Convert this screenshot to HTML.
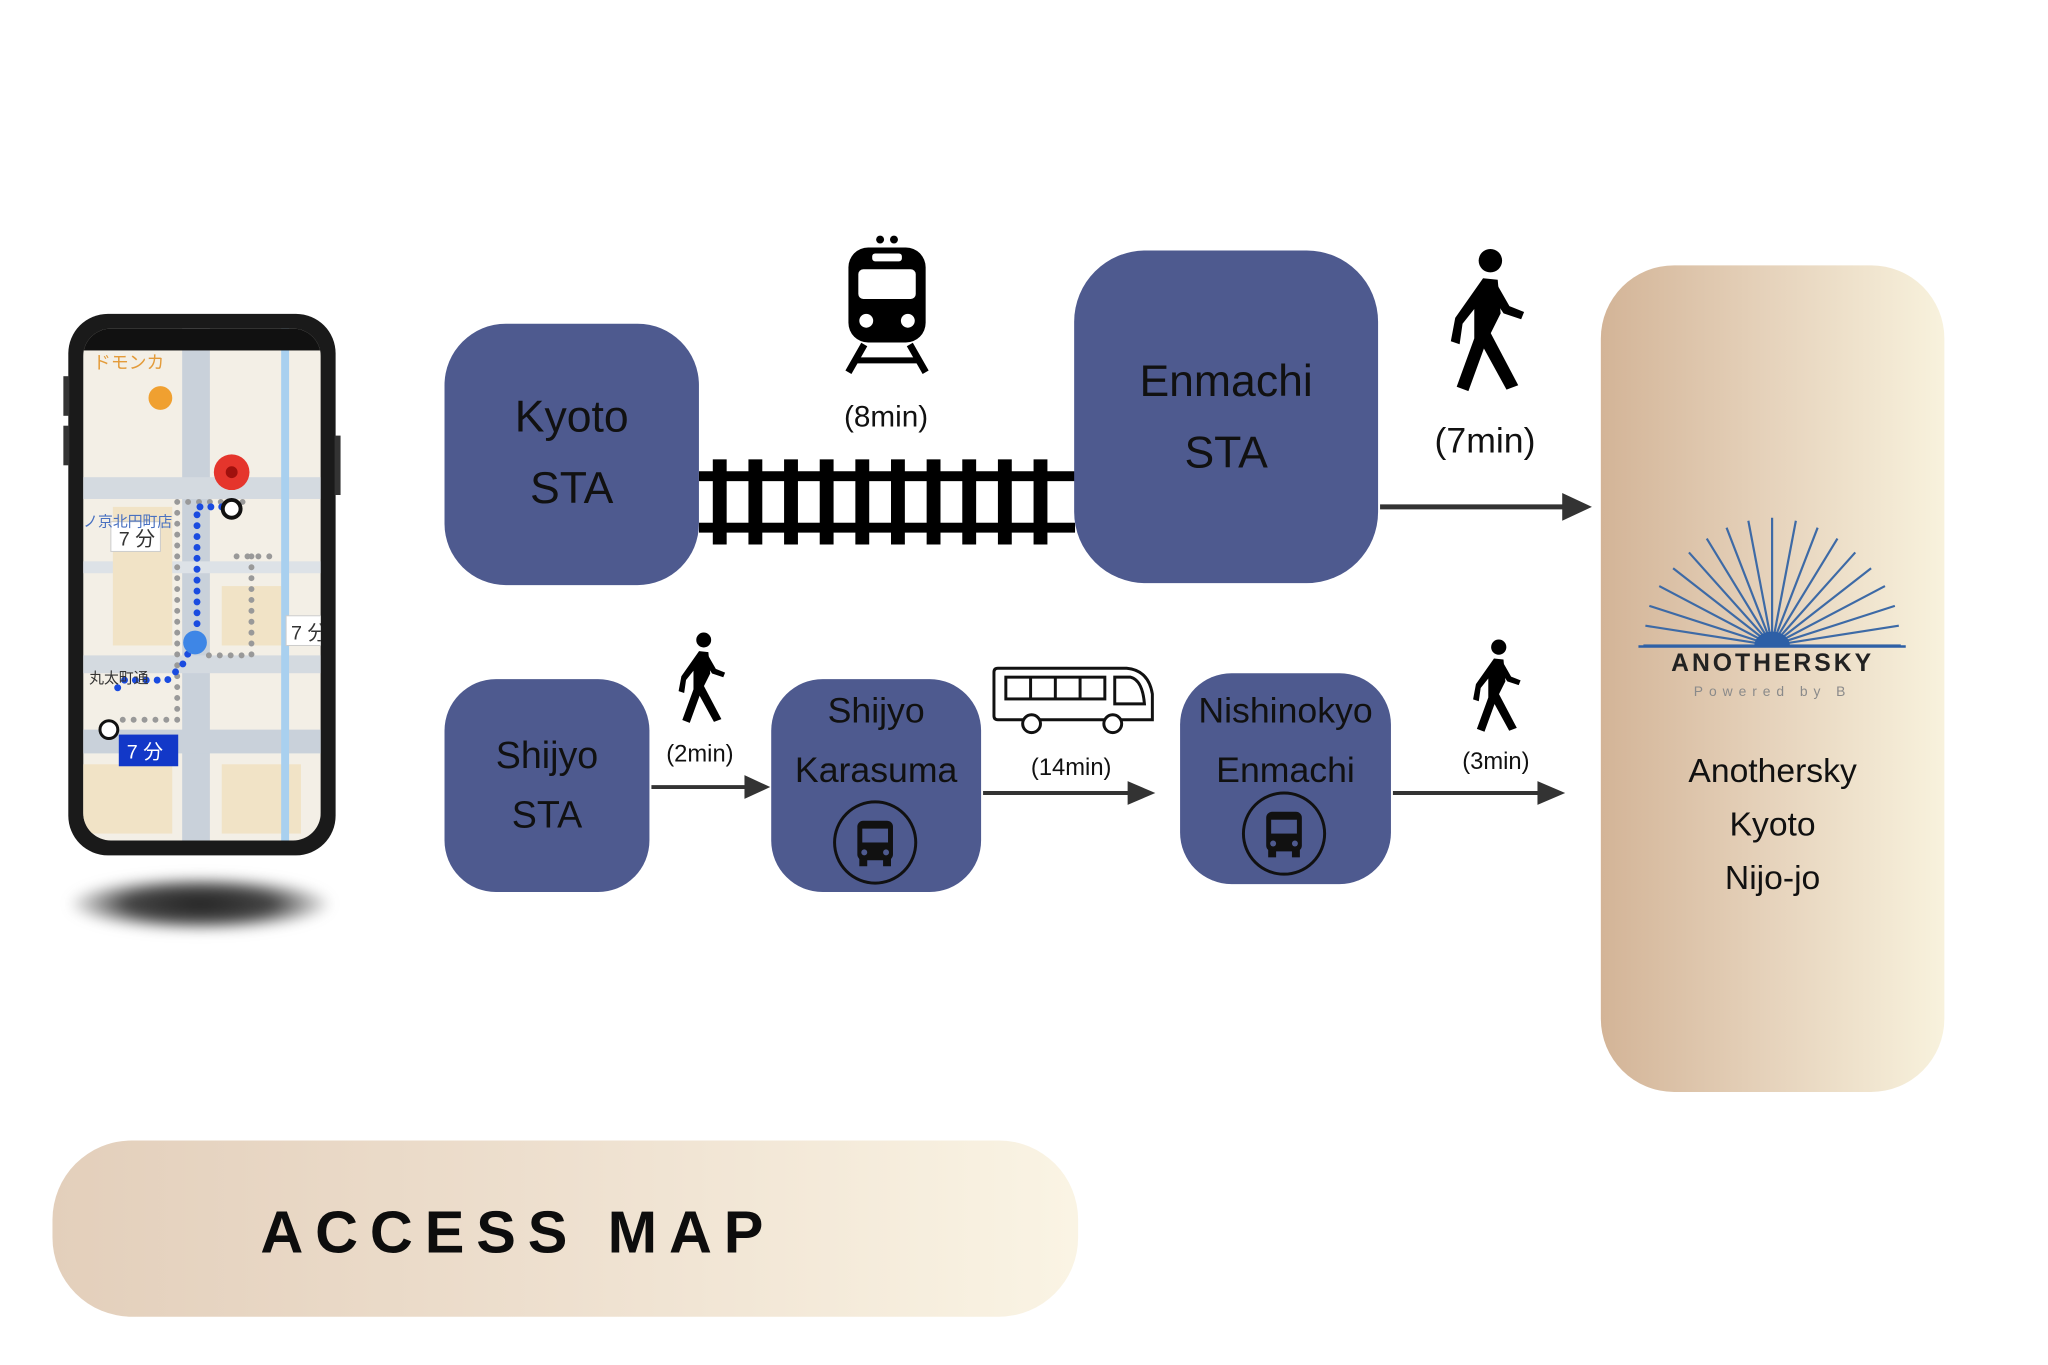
<!DOCTYPE html>
<html><head><meta charset="utf-8"><style>
html,body{margin:0;padding:0;background:#fff;}
body{width:2048px;height:1365px;position:relative;overflow:hidden;font-family:"Liberation Sans","Noto Sans CJK JP",sans-serif;}
#wrap{position:absolute;left:0;top:0;width:2048px;height:1365px;transform:scale(0.99);transform-origin:0 0;}
.box{position:absolute;background:#4e5a8f;color:#111;text-align:center;font-size:45px;line-height:72px;}
.lbl{position:absolute;font-size:30px;color:#111;text-align:center;transform:translateX(-50%);white-space:nowrap;}
.abs{position:absolute;}
</style></head><body><div id="wrap">

<div class="abs" style="left:70px;top:885px;width:264px;height:56px;border-radius:50%;background:radial-gradient(ellipse at center,#222 0%,#444 40%,rgba(255,255,255,0) 72%);filter:blur(6px);"></div>
<div class="abs" style="left:69px;top:317px;width:270px;height:547px;border-radius:40px;background:#1a1a1a;"></div>
<div class="abs" style="left:64px;top:380px;width:6px;height:40px;background:#333;"></div>
<div class="abs" style="left:64px;top:430px;width:6px;height:40px;background:#333;"></div>
<div class="abs" style="left:338px;top:440px;width:6px;height:60px;background:#333;"></div>
<svg class="abs" style="left:84px;top:332px" width="240" height="517" viewBox="0 0 240 517">
<defs><clipPath id="sc"><rect x="0" y="0" width="240" height="517" rx="28"/></clipPath></defs>
<g clip-path="url(#sc)">
<rect x="0" y="0" width="240" height="517" fill="#f3efe6"/>
<rect x="100" y="0" width="28" height="517" fill="#c9d1da"/>
<rect x="0" y="150" width="240" height="22" fill="#d4dae0"/>
<rect x="0" y="330" width="240" height="18" fill="#d4dae0"/>
<rect x="0" y="405" width="240" height="24" fill="#c9d1da"/>
<rect x="0" y="235" width="240" height="12" fill="#dde2e7"/>
<rect x="30" y="180" width="60" height="140" fill="#f1e3c6"/>
<rect x="140" y="260" width="60" height="60" fill="#f1e3c6"/>
<rect x="140" y="440" width="80" height="70" fill="#f1e3c6"/>
<rect x="0" y="440" width="90" height="70" fill="#f1e3c6"/>
<rect x="200" y="0" width="8" height="517" fill="#a9d0ef"/>
<rect x="0" y="0" width="240" height="22" fill="#111"/>
<text x="10" y="40" font-size="18" fill="#e39b3a">ドモンカ</text>
<circle cx="78" cy="70" r="12" fill="#f0a030"/>
<g fill="none" stroke="#999" stroke-width="6" stroke-dasharray="0 11" stroke-linecap="round">
<path d="M95 175 H165 M95 175 V395 H30 M155 230 H195 M170 230 V330 H120"/>
</g>
<g fill="none" stroke="#1a4be0" stroke-width="7" stroke-dasharray="0 11" stroke-linecap="round">
<path d="M140 180 H115 V310 L100 340 L85 355 L40 355 L30 370"/>
</g>
<circle cx="150" cy="145" r="18" fill="#e5352c"/><circle cx="150" cy="145" r="6" fill="#a0110d"/>
<circle cx="150" cy="182" r="9" fill="#fff" stroke="#111" stroke-width="4"/>
<rect x="28" y="195" width="50" height="30" fill="#fff" stroke="#ccc"/><text x="36" y="219" font-size="20" fill="#333">7 分</text>
<rect x="205" y="290" width="40" height="30" fill="#fff" stroke="#ccc"/><text x="210" y="314" font-size="20" fill="#333">7 分</text>
<rect x="36" y="410" width="60" height="32" fill="#1238c8"/><text x="44" y="434" font-size="20" fill="#fff">7 分</text>
<circle cx="26" cy="405" r="9" fill="#fff" stroke="#111" stroke-width="3"/>
<text x="6" y="358" font-size="15" fill="#333">丸太町通</text>
<text x="0" y="200" font-size="15" fill="#4870c0">ノ京北円町店</text>
<circle cx="113" cy="317" r="12" fill="#3e86e6"/>
</g>
</svg>

<div class="box" style="left:449px;top:327px;width:257px;height:264px;border-radius:62px;"><div style="padding-top:58px">Kyoto<br>STA</div></div>
<svg class="abs" style="left:706px;top:462px" width="380" height="90" viewBox="0 0 380 90">
<rect x="0" y="14" width="380" height="10" fill="#000"/>
<rect x="0" y="66" width="380" height="10" fill="#000"/>
<g fill="#000">
<rect x="14" y="2" width="14" height="86"/><rect x="50" y="2" width="14" height="86"/><rect x="86" y="2" width="14" height="86"/><rect x="122" y="2" width="14" height="86"/><rect x="158" y="2" width="14" height="86"/><rect x="194" y="2" width="14" height="86"/><rect x="230" y="2" width="14" height="86"/><rect x="266" y="2" width="14" height="86"/><rect x="302" y="2" width="14" height="86"/><rect x="338" y="2" width="14" height="86"/>
</g></svg>
<svg class="abs" style="left:851px;top:236px" width="90" height="142" viewBox="0 0 90 142">
<circle cx="38" cy="6" r="4" fill="#000"/><circle cx="52" cy="6" r="4" fill="#000"/>
<rect x="6" y="14" width="78" height="96" rx="20" fill="#000"/>
<rect x="30" y="20" width="30" height="8" rx="3" fill="#fff"/>
<rect x="16" y="36" width="58" height="30" rx="5" fill="#fff"/>
<circle cx="24" cy="88" r="7" fill="#fff"/><circle cx="66" cy="88" r="7" fill="#fff"/>
<path d="M22 112 L6 140 M68 112 L84 140" stroke="#000" stroke-width="7"/>
<path d="M14 128 H76" stroke="#000" stroke-width="6"/>
</svg>
<div class="lbl" style="left:895px;top:405px;">(8min)</div>

<div class="box" style="left:1085px;top:253px;width:307px;height:336px;border-radius:72px;"><div style="padding-top:96px">Enmachi<br>STA</div></div>

<svg class="abs" style="left:1456px;top:250px" width="90" height="148" viewBox="0 0 60 100">
<circle cx="33" cy="9" r="8" fill="#000"/>
<path d="M28 21 L38 22 L40 45 L30 65 L18 98 L10 95 L22 62 L22 42 L14 52 L12 66 L6 64 L9 48Z" fill="#000"/>
<path d="M33 58 L52 94 L44 97 L27 66Z" fill="#000"/>
<path d="M38 26 L46 40 L56 44 L54 49 L42 45 L36 36Z" fill="#000"/>
</svg>
<div class="lbl" style="left:1500px;top:424px;font-size:36px;">(7min)</div>
<svg class="abs" style="left:1392px;top:495px" width="220" height="34"><path d="M2 17 H192" stroke="#333" stroke-width="5"/><path d="M186 3 L216 17 L186 31Z" fill="#333"/></svg>

<div class="abs" style="left:1617px;top:268px;width:347px;height:835px;border-radius:74px;background:linear-gradient(90deg,#d3b497 0%,#e6d3bc 50%,#f8f2dd 100%);"></div>
<svg class="abs" style="left:1650px;top:520px" width="280" height="150" viewBox="0 0 280 150">
<g stroke="#3d6aa6" stroke-width="2.2">
<line x1="140" y1="132" x2="10" y2="132"/><line x1="140" y1="132" x2="270" y2="132"/>
<line x1="140" y1="132" x2="12" y2="112"/><line x1="140" y1="132" x2="268" y2="112"/>
<line x1="140" y1="132" x2="16" y2="92"/><line x1="140" y1="132" x2="264" y2="92"/>
<line x1="140" y1="132" x2="26" y2="72"/><line x1="140" y1="132" x2="254" y2="72"/>
<line x1="140" y1="132" x2="40" y2="54"/><line x1="140" y1="132" x2="240" y2="54"/>
<line x1="140" y1="132" x2="56" y2="38"/><line x1="140" y1="132" x2="224" y2="38"/>
<line x1="140" y1="132" x2="74" y2="24"/><line x1="140" y1="132" x2="206" y2="24"/>
<line x1="140" y1="132" x2="94" y2="13"/><line x1="140" y1="132" x2="186" y2="13"/>
<line x1="140" y1="132" x2="116" y2="6"/><line x1="140" y1="132" x2="164" y2="6"/>
<line x1="140" y1="132" x2="140" y2="3"/>
</g>
<path d="M122 132 A18 14 0 0 1 158 132Z" fill="#2d5fa6"/>
<line x1="5" y1="133" x2="275" y2="133" stroke="#2d5fa6" stroke-width="2.5"/>
</svg>
<div class="abs" style="left:1617px;top:656px;width:347px;text-align:center;font-size:25px;font-weight:bold;letter-spacing:3px;color:#222;">ANOTHERSKY</div>
<div class="abs" style="left:1617px;top:690px;width:347px;text-align:center;font-size:14px;letter-spacing:6px;color:#8a8a8a;">Powered by B</div>
<div class="abs" style="left:1617px;top:752px;width:347px;text-align:center;font-size:34px;line-height:54px;color:#111;">Anothersky<br>Kyoto<br>Nijo-jo</div>

<div class="box" style="left:449px;top:686px;width:207px;height:215px;border-radius:52px;font-size:38px;line-height:60px;"><div style="padding-top:48px">Shijyo<br>STA</div></div>
<svg class="abs" style="left:678px;top:638px" width="60" height="94" viewBox="0 0 60 100">
<circle cx="33" cy="9" r="8" fill="#000"/>
<path d="M28 21 L38 22 L40 45 L30 65 L18 98 L10 95 L22 62 L22 42 L14 52 L12 66 L6 64 L9 48Z" fill="#000"/>
<path d="M33 58 L52 94 L44 97 L27 66Z" fill="#000"/>
<path d="M38 26 L46 40 L56 44 L54 49 L42 45 L36 36Z" fill="#000"/>
</svg>
<div class="lbl" style="left:707px;top:748px;font-size:24px;">(2min)</div>
<svg class="abs" style="left:656px;top:780px" width="124" height="30"><path d="M2 15 H100" stroke="#333" stroke-width="4"/><path d="M96 3 L122 15 L96 27Z" fill="#333"/></svg>

<div class="box" style="left:779px;top:686px;width:212px;height:215px;border-radius:52px;font-size:36px;line-height:60px;"><div style="padding-top:2px">Shijyo<br>Karasuma</div></div>
<svg class="abs" style="left:840px;top:807px" width="88" height="88" viewBox="0 0 88 88">
<circle cx="44" cy="44" r="41" fill="none" stroke="#111" stroke-width="3"/>
<rect x="26" y="22" width="36" height="40" rx="6" fill="#111"/>
<rect x="31" y="30" width="26" height="14" fill="#4e5a8f"/>
<rect x="28" y="60" width="8" height="8" fill="#111"/><rect x="52" y="60" width="8" height="8" fill="#111"/>
<circle cx="33" cy="54" r="3" fill="#4e5a8f"/><circle cx="55" cy="54" r="3" fill="#4e5a8f"/>
</svg>

<svg class="abs" style="left:1002px;top:671px" width="166" height="74" viewBox="0 0 166 74">
<path d="M6 4 H136 Q158 6 162 30 V56 H6 Q2 56 2 52 V8 Q2 4 6 4Z" fill="#fff" stroke="#111" stroke-width="3"/>
<rect x="14" y="13" width="100" height="22" fill="none" stroke="#111" stroke-width="3"/>
<path d="M39 13 V35 M64 13 V35 M89 13 V35" stroke="#111" stroke-width="3"/>
<path d="M124 13 H140 Q152 16 154 40 H124Z" fill="none" stroke="#111" stroke-width="3"/>
<circle cx="40" cy="60" r="9" fill="#fff" stroke="#111" stroke-width="3"/><circle cx="122" cy="60" r="9" fill="#fff" stroke="#111" stroke-width="3"/>
</svg>
<div class="lbl" style="left:1082px;top:762px;font-size:24px;">(14min)</div>
<svg class="abs" style="left:991px;top:786px" width="178" height="30"><path d="M2 15 H152" stroke="#333" stroke-width="4"/><path d="M148 3 L176 15 L148 27Z" fill="#333"/></svg>

<div class="box" style="left:1192px;top:680px;width:213px;height:213px;border-radius:52px;font-size:36px;line-height:60px;"><div style="padding-top:8px">Nishinokyo<br>Enmachi</div></div>
<svg class="abs" style="left:1253px;top:798px" width="88" height="88" viewBox="0 0 88 88">
<circle cx="44" cy="44" r="41" fill="none" stroke="#111" stroke-width="3"/>
<rect x="26" y="22" width="36" height="40" rx="6" fill="#111"/>
<rect x="31" y="30" width="26" height="14" fill="#4e5a8f"/>
<rect x="28" y="60" width="8" height="8" fill="#111"/><rect x="52" y="60" width="8" height="8" fill="#111"/>
<circle cx="33" cy="54" r="3" fill="#4e5a8f"/><circle cx="55" cy="54" r="3" fill="#4e5a8f"/>
</svg>
<svg class="abs" style="left:1480px;top:645px" width="62" height="96" viewBox="0 0 60 100">
<circle cx="33" cy="9" r="8" fill="#000"/>
<path d="M28 21 L38 22 L40 45 L30 65 L18 98 L10 95 L22 62 L22 42 L14 52 L12 66 L6 64 L9 48Z" fill="#000"/>
<path d="M33 58 L52 94 L44 97 L27 66Z" fill="#000"/>
<path d="M38 26 L46 40 L56 44 L54 49 L42 45 L36 36Z" fill="#000"/>
</svg>
<div class="lbl" style="left:1511px;top:756px;font-size:24px;">(3min)</div>
<svg class="abs" style="left:1405px;top:786px" width="178" height="30"><path d="M2 15 H152" stroke="#333" stroke-width="4"/><path d="M148 3 L176 15 L148 27Z" fill="#333"/></svg>

<div class="abs" style="left:53px;top:1152px;width:1036px;height:178px;border-radius:80px;background:linear-gradient(90deg,#e3cfbb 0%,#eee0cf 50%,#faf4e4 100%);"></div>
<div class="abs" style="left:263px;top:1210px;font-size:60px;font-weight:bold;letter-spacing:12px;color:#0d0d0d;line-height:70px;">ACCESS MAP</div>
</div></body></html>
